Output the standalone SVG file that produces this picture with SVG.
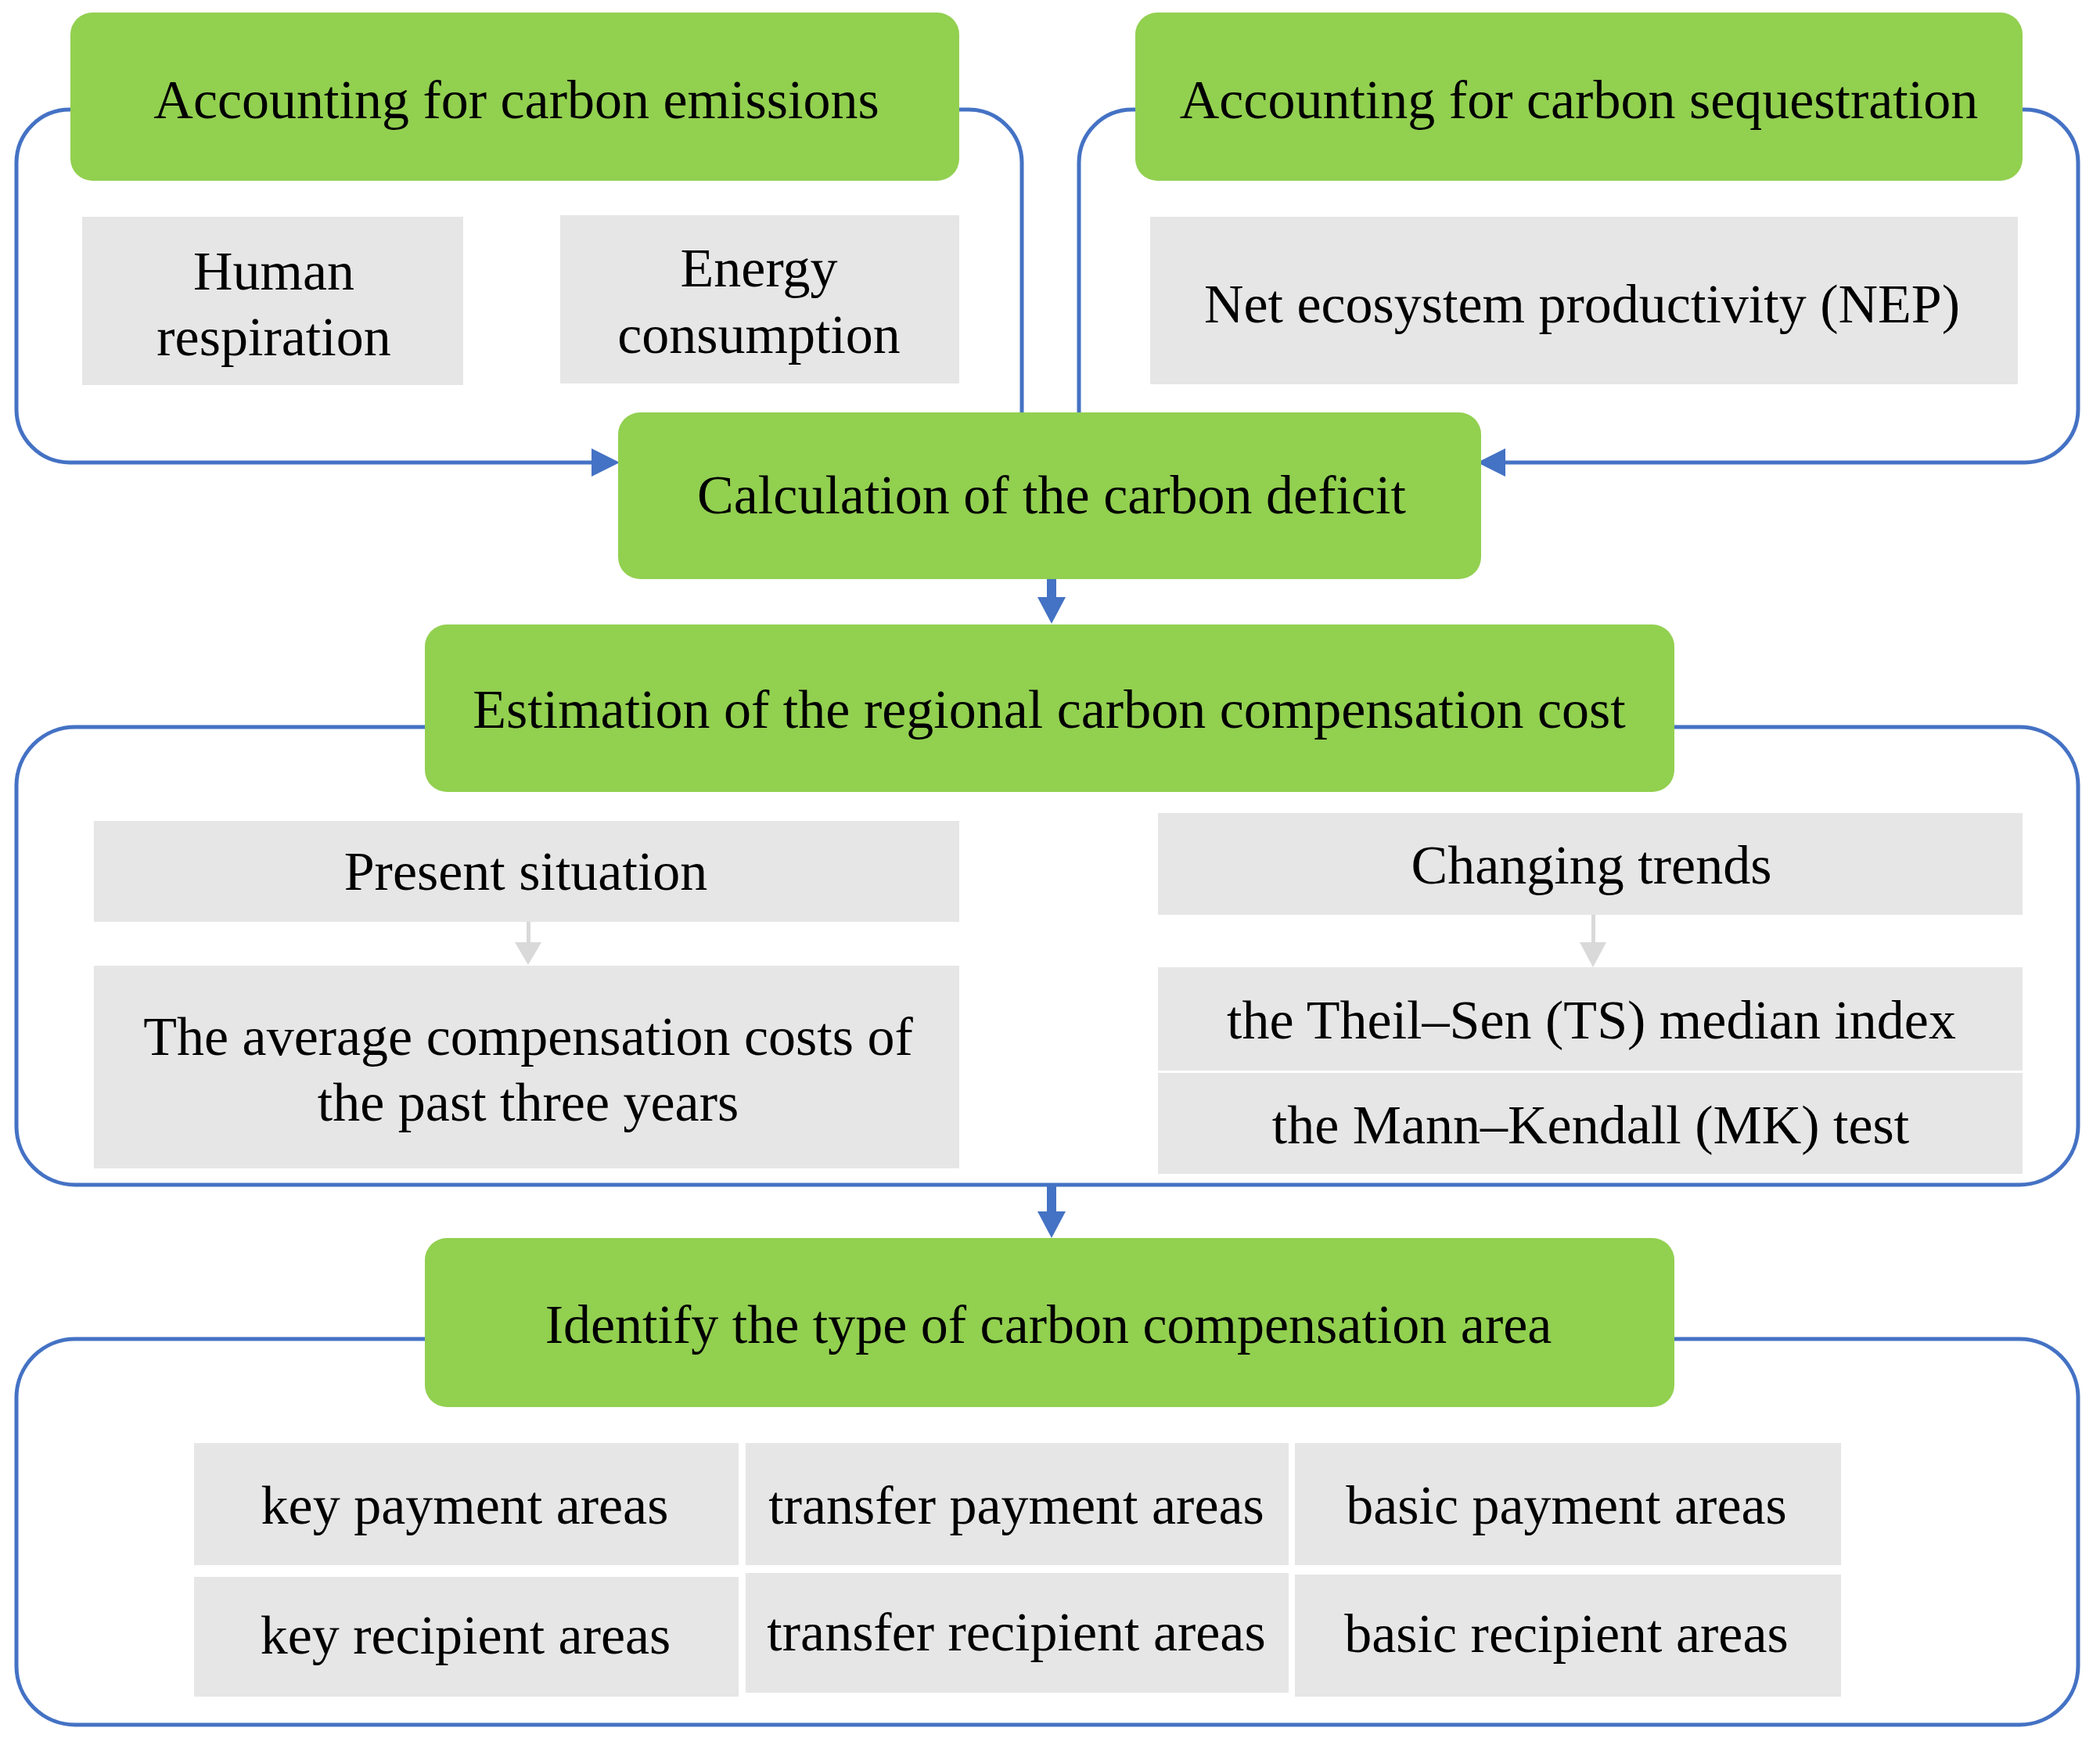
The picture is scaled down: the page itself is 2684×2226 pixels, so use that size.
<svg xmlns="http://www.w3.org/2000/svg" width="2684" height="2226" viewBox="0 0 2684 2226">
<style>
.g{fill:#92d050}
.b{fill:#e7e6e6}
.t{font-family:"Liberation Serif","Times New Roman",serif;font-size:70px;fill:#000;text-anchor:middle}
.ln{fill:none;stroke:#4472c4;stroke-width:5}
.ah{fill:#4472c4}
.ga{fill:#d9d9d9}
</style>
<rect width="2684" height="2226" fill="#fff"/>
<g id="connectors">
<path class="ln" d="M200 140 H89 A68 68 0 0 0 21 208 V523 A68 68 0 0 0 89 591 H760"/>
<polygon class="ah" points="756,573 792,591 756,609"/>
<path class="ln" d="M1100 140 H1238 A68 68 0 0 1 1306 208 V560"/>
<path class="ln" d="M1500 140 H1447 A68 68 0 0 0 1379 208 V560"/>
<path class="ln" d="M2500 140 H2588 A68 68 0 0 1 2656 208 V523 A68 68 0 0 1 2588 591 H1920"/>
<polygon class="ah" points="1924,573 1888,591 1924,609"/>
<rect class="ah" x="1338" y="740" width="12" height="25"/>
<polygon class="ah" points="1326,763 1362,763 1344,797"/>
<path class="ln" d="M600 929 H96 A75 75 0 0 0 21 1004 V1439 A75 75 0 0 0 96 1514 H2581 A75 75 0 0 0 2656 1439 V1004 A75 75 0 0 0 2581 929 H2100"/>
<rect class="ah" x="1338" y="1514" width="12" height="35"/>
<polygon class="ah" points="1326,1548 1362,1548 1344,1582"/>
<path class="ln" d="M600 1711 H96 A75 75 0 0 0 21 1786 V2129 A75 75 0 0 0 96 2204 H2581 A75 75 0 0 0 2656 2129 V1786 A75 75 0 0 0 2581 1711 H2100"/>
<rect class="ga" x="673" y="1178" width="5" height="28"/>
<polygon class="ga" points="658,1204 692,1204 675,1233"/>
<rect class="ga" x="2034" y="1169" width="5" height="37"/>
<polygon class="ga" points="2019,1204 2053,1204 2036,1236"/>
</g>
<g id="emissions">
<rect class="g" x="90" y="16" width="1136" height="215" rx="28"/>
<text class="t" x="660" y="151">Accounting for carbon emissions</text>
</g>
<g id="sequestration">
<rect class="g" x="1451" y="16" width="1134" height="215" rx="28"/>
<text class="t" x="2018" y="151">Accounting for carbon sequestration</text>
</g>
<g id="human">
<rect class="b" x="105" y="277" width="487" height="215"/>
<text class="t" x="350" y="370">Human</text>
<text class="t" x="350" y="454">respiration</text>
</g>
<g id="energy">
<rect class="b" x="716" y="275" width="510" height="215"/>
<text class="t" x="970" y="366">Energy</text>
<text class="t" x="970" y="451">consumption</text>
</g>
<g id="nep">
<rect class="b" x="1470" y="277" width="1109" height="214"/>
<text class="t" x="2022" y="412">Net ecosystem productivity (NEP)</text>
</g>
<g id="deficit">
<rect class="g" x="790" y="527" width="1103" height="213" rx="28"/>
<text class="t" x="1344" y="656">Calculation of the carbon deficit</text>
</g>
<g id="estimation">
<rect class="g" x="543" y="798" width="1597" height="214" rx="28"/>
<text class="t" x="1341" y="930">Estimation of the regional carbon compensation cost</text>
</g>
<g id="present">
<rect class="b" x="120" y="1049" width="1106" height="129"/>
<text class="t" x="672" y="1137">Present situation</text>
</g>
<g id="average">
<rect class="b" x="120" y="1234" width="1106" height="259"/>
<text class="t" x="675" y="1348">The average compensation costs of</text>
<text class="t" x="675" y="1432">the past three years</text>
</g>
<g id="trends">
<rect class="b" x="1480" y="1039" width="1105" height="130"/>
<text class="t" x="2034" y="1129">Changing trends</text>
</g>
<g id="theilsen">
<rect class="b" x="1480" y="1236" width="1105" height="132"/>
<text class="t" x="2034" y="1327">the Theil–Sen (TS) median index</text>
</g>
<g id="mk">
<rect class="b" x="1480" y="1371" width="1105" height="129"/>
<text class="t" x="2033" y="1461">the Mann–Kendall (MK) test</text>
</g>
<g id="identify">
<rect class="g" x="543" y="1582" width="1597" height="216" rx="28"/>
<text class="t" x="1340" y="1716">Identify the type of carbon compensation area</text>
</g>
<g id="key-payment">
<rect class="b" x="248" y="1844" width="696" height="156"/>
<text class="t" x="594" y="1947">key payment areas</text>
</g>
<g id="transfer-payment">
<rect class="b" x="953" y="1844" width="694" height="156"/>
<text class="t" x="1299" y="1947">transfer payment areas</text>
</g>
<g id="basic-payment">
<rect class="b" x="1655" y="1844" width="698" height="156"/>
<text class="t" x="2002" y="1947">basic payment areas</text>
</g>
<g id="key-recipient">
<rect class="b" x="248" y="2015" width="696" height="153"/>
<text class="t" x="595" y="2113">key recipient areas</text>
</g>
<g id="transfer-recipient">
<rect class="b" x="953" y="2010" width="694" height="153"/>
<text class="t" x="1299" y="2109">transfer recipient areas</text>
</g>
<g id="basic-recipient">
<rect class="b" x="1655" y="2012" width="698" height="156"/>
<text class="t" x="2002" y="2111">basic recipient areas</text>
</g>
</svg>
